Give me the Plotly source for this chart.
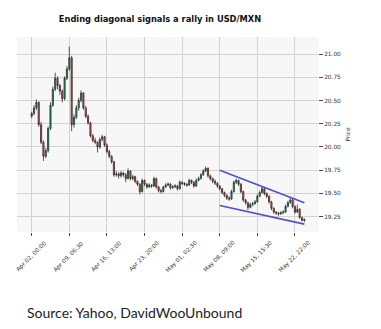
import plotly.graph_objects as go

# USD/MXN bars (bar index, OHLC)
opens = [20.33, 20.36, 20.42, 20.48, 20.24, 20.05, 19.90, 19.96, 20.20, 20.45,
         20.62, 20.74, 20.66, 20.60, 20.52, 20.74, 20.84, 20.96, 20.24, 20.32,
         20.42, 20.50, 20.58, 20.42, 20.33, 20.26, 20.12, 20.07, 20.05, 20.00,
         20.08, 20.11, 20.02, 19.95, 19.90, 19.84, 19.70, 19.71, 19.69, 19.72,
         19.70, 19.66, 19.74, 19.66, 19.68, 19.63, 19.60, 19.52, 19.64, 19.60,
         19.57, 19.59, 19.58, 19.66, 19.57, 19.53, 19.52, 19.57, 19.59, 19.60,
         19.56, 19.57, 19.58, 19.55, 19.62, 19.61, 19.60, 19.59, 19.64, 19.62,
         19.58, 19.64, 19.66, 19.70, 19.74, 19.77, 19.69, 19.66, 19.63, 19.61,
         19.58, 19.55, 19.51, 19.48, 19.45, 19.44, 19.52, 19.62, 19.64, 19.60,
         19.52, 19.43, 19.40, 19.35, 19.38, 19.39, 19.41, 19.47, 19.51, 19.55,
         19.50, 19.47, 19.41, 19.34, 19.30, 19.29, 19.28, 19.29, 19.30, 19.36,
         19.40, 19.43, 19.36, 19.30, 19.33, 19.24, 19.21]
highs = [20.38, 20.45, 20.51, 20.49, 20.27, 20.07, 19.99, 20.22, 20.48, 20.65,
         20.80, 20.76, 20.68, 20.62, 20.76, 20.87, 21.08, 20.98, 20.35, 20.45,
         20.53, 20.61, 20.59, 20.44, 20.35, 20.27, 20.14, 20.10, 20.06, 20.10,
         20.13, 20.12, 20.04, 19.97, 19.91, 19.85, 19.74, 19.73, 19.74, 19.73,
         19.72, 19.77, 19.75, 19.70, 19.69, 19.64, 19.61, 19.66, 19.65, 19.61,
         19.61, 19.60, 19.68, 19.67, 19.58, 19.55, 19.58, 19.61, 19.62, 19.61,
         19.59, 19.60, 19.59, 19.64, 19.63, 19.62, 19.61, 19.66, 19.65, 19.63,
         19.66, 19.68, 19.72, 19.76, 19.79, 19.78, 19.70, 19.67, 19.65, 19.62,
         19.59, 19.56, 19.52, 19.49, 19.47, 19.54, 19.64, 19.66, 19.65, 19.61,
         19.53, 19.44, 19.41, 19.40, 19.41, 19.43, 19.49, 19.53, 19.58, 19.56,
         19.51, 19.48, 19.42, 19.35, 19.31, 19.30, 19.31, 19.32, 19.38, 19.42,
         19.45, 19.44, 19.37, 19.38, 19.34, 19.25, 19.23]
lows = [20.31, 20.34, 20.40, 20.22, 20.03, 19.85, 19.88, 19.94, 20.18, 20.43,
        20.60, 20.62, 20.56, 20.48, 20.50, 20.72, 20.82, 20.17, 20.21, 20.30,
        20.39, 20.48, 20.40, 20.31, 20.24, 20.10, 20.05, 20.03, 19.94, 19.98,
        20.06, 20.00, 19.93, 19.88, 19.82, 19.68, 19.68, 19.66, 19.67, 19.68,
        19.62, 19.65, 19.64, 19.64, 19.61, 19.58, 19.49, 19.51, 19.58, 19.55,
        19.56, 19.56, 19.57, 19.55, 19.51, 19.50, 19.51, 19.56, 19.58, 19.54,
        19.55, 19.56, 19.53, 19.54, 19.59, 19.58, 19.57, 19.58, 19.60, 19.56,
        19.57, 19.63, 19.65, 19.69, 19.73, 19.67, 19.64, 19.61, 19.59, 19.56,
        19.53, 19.49, 19.46, 19.43, 19.42, 19.43, 19.51, 19.60, 19.58, 19.50,
        19.41, 19.38, 19.32, 19.34, 19.36, 19.38, 19.40, 19.46, 19.50, 19.48,
        19.45, 19.39, 19.32, 19.28, 19.27, 19.26, 19.27, 19.28, 19.29, 19.35,
        19.39, 19.34, 19.28, 19.29, 19.23, 19.20, 19.19]
closes = [20.36, 20.42, 20.48, 20.24, 20.05, 19.90, 19.96, 20.20, 20.45, 20.62,
          20.74, 20.66, 20.60, 20.52, 20.74, 20.84, 20.96, 20.24, 20.32, 20.42,
          20.50, 20.58, 20.42, 20.33, 20.26, 20.12, 20.07, 20.05, 20.00, 20.08,
          20.11, 20.02, 19.95, 19.90, 19.84, 19.70, 19.71, 19.69, 19.72, 19.70,
          19.66, 19.74, 19.66, 19.68, 19.63, 19.60, 19.52, 19.64, 19.60, 19.57,
          19.59, 19.58, 19.66, 19.57, 19.53, 19.52, 19.57, 19.59, 19.60, 19.56,
          19.57, 19.58, 19.55, 19.62, 19.61, 19.60, 19.59, 19.64, 19.62, 19.58,
          19.64, 19.66, 19.70, 19.74, 19.77, 19.69, 19.66, 19.63, 19.61, 19.58,
          19.55, 19.51, 19.48, 19.45, 19.44, 19.52, 19.62, 19.64, 19.60, 19.52,
          19.43, 19.40, 19.35, 19.38, 19.39, 19.41, 19.47, 19.51, 19.55, 19.50,
          19.47, 19.41, 19.34, 19.30, 19.29, 19.28, 19.29, 19.30, 19.36, 19.40,
          19.43, 19.36, 19.30, 19.33, 19.24, 19.21, 19.22]

# Date labels every 16 bars
tick_positions = [0, 16, 32, 48, 64, 80, 96, 112]
tick_labels = ["Apr 02, 00:00", "Apr 09, 06:30", "Apr 16, 13:00", "Apr 23, 20:00",
               "May 01, 02:30", "May 08, 09:00", "May 15, 15:30", "May 22, 22:00"]
price_ticks = [19.25, 19.50, 19.75, 20.00, 20.25, 20.50, 20.75, 21.00]

# Ending-diagonal trend lines (bar index, price)
upper_line_x = [80, 116]
upper_line_y = [19.75, 19.40]
lower_line_x = [80, 116]
lower_line_y = [19.37, 19.17]

bars = list(range(len(closes)))

fig = go.Figure()
fig.add_trace(go.Candlestick(
    x=bars, open=opens, high=highs, low=lows, close=closes,
    increasing=dict(line=dict(color="#24362d", width=0.8), fillcolor="#2a9a68"),
    decreasing=dict(line=dict(color="#3e2626", width=0.8), fillcolor="#e0585a"),
    whiskerwidth=0, showlegend=False, hoverinfo="skip",
))
for lx, ly in ((upper_line_x, upper_line_y), (lower_line_x, lower_line_y)):
    fig.add_trace(go.Scatter(x=lx, y=ly, mode="lines",
                             line=dict(color="#5050c8", width=1.6),
                             showlegend=False, hoverinfo="skip"))

tick_font = dict(family="DejaVu Sans", size=5.8, color="#333333")

fig.update_layout(
    width=381, height=329,
    margin=dict(l=17, r=63, t=37, b=97),
    paper_bgcolor="white", plot_bgcolor="#f7f7f7",
    title=dict(text="<b>Ending diagonal signals a rally in USD/MXN</b>",
               x=160 / 381, xanchor="center", y=1 - 19 / 329, yanchor="middle",
               font=dict(family="DejaVu Sans", size=8.3, color="#111111")),
    xaxis=dict(range=[-6.25, 121.8], tickvals=tick_positions, showticklabels=False,
               ticks="outside", ticklen=3, tickcolor="#444444",
               showgrid=True, gridcolor="#d2d2d2", gridwidth=1,
               zeroline=False, showline=False, rangeslider=dict(visible=False)),
    yaxis=dict(side="right", range=[19.085, 21.183], tickvals=price_ticks,
               ticktext=[f"{v:.2f}" for v in price_ticks], tickfont=tick_font,
               ticks="outside", ticklen=4, tickcolor="#444444",
               showgrid=True, gridcolor="#d2d2d2", gridwidth=1,
               zeroline=False, showline=False,
               title=dict(text="Price", font=tick_font, standoff=5)),
)

for pos, label in zip(tick_positions, tick_labels):
    fig.add_annotation(x=pos, y=-0.128, xref="x", yref="paper", text=label,
                       textangle=-45, showarrow=False, font=tick_font,
                       xanchor="center", yanchor="middle")

fig.add_annotation(x=(25 - 17) / 301, y=-0.415, xref="paper", yref="paper",
                   text="Source: Yahoo, DavidWooUnbound", showarrow=False,
                   font=dict(family="Lato", size=14, color="#222222"),
                   xanchor="left", yanchor="middle")

fig.write_html("out.html")
